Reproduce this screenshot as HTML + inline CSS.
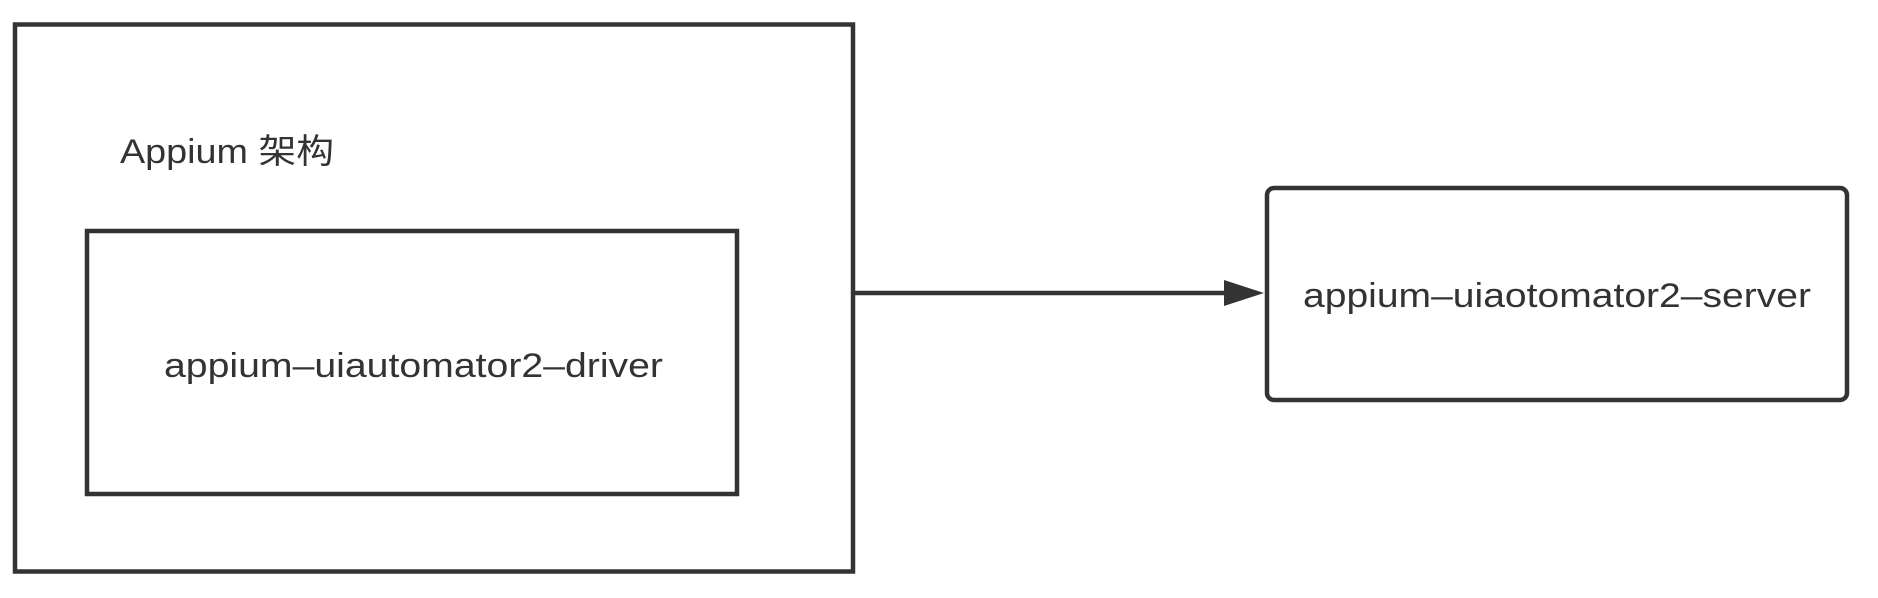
<!DOCTYPE html>
<html><head><meta charset="utf-8"><style>html,body{margin:0;padding:0;background:#fff;width:1878px;height:598px;overflow:hidden}</style></head>
<body>
<svg width="1878" height="598" xmlns="http://www.w3.org/2000/svg">
<g fill="none" stroke="#333" stroke-width="4.5">
<rect x="15" y="24.5" width="838" height="547"/>
<rect x="87" y="231" width="650" height="263"/>
<rect x="1267" y="188" width="580" height="212" rx="7"/>
<line x1="853" y1="293" x2="1228" y2="293"/>
</g>
<polygon points="1224,280 1264,293 1224,306" fill="#333"/>
<g fill="#333" font-family="'Liberation Sans','Noto Sans CJK SC',sans-serif" font-size="34">
<text x="120" y="163" textLength="214" lengthAdjust="spacingAndGlyphs">Appium 架构</text>
<text x="164" y="377" textLength="499" lengthAdjust="spacingAndGlyphs">appium–uiautomator2–driver</text>
<text x="1303" y="307" textLength="508" lengthAdjust="spacingAndGlyphs">appium–uiaotomator2–server</text>
</g>
</svg>
</body></html>
